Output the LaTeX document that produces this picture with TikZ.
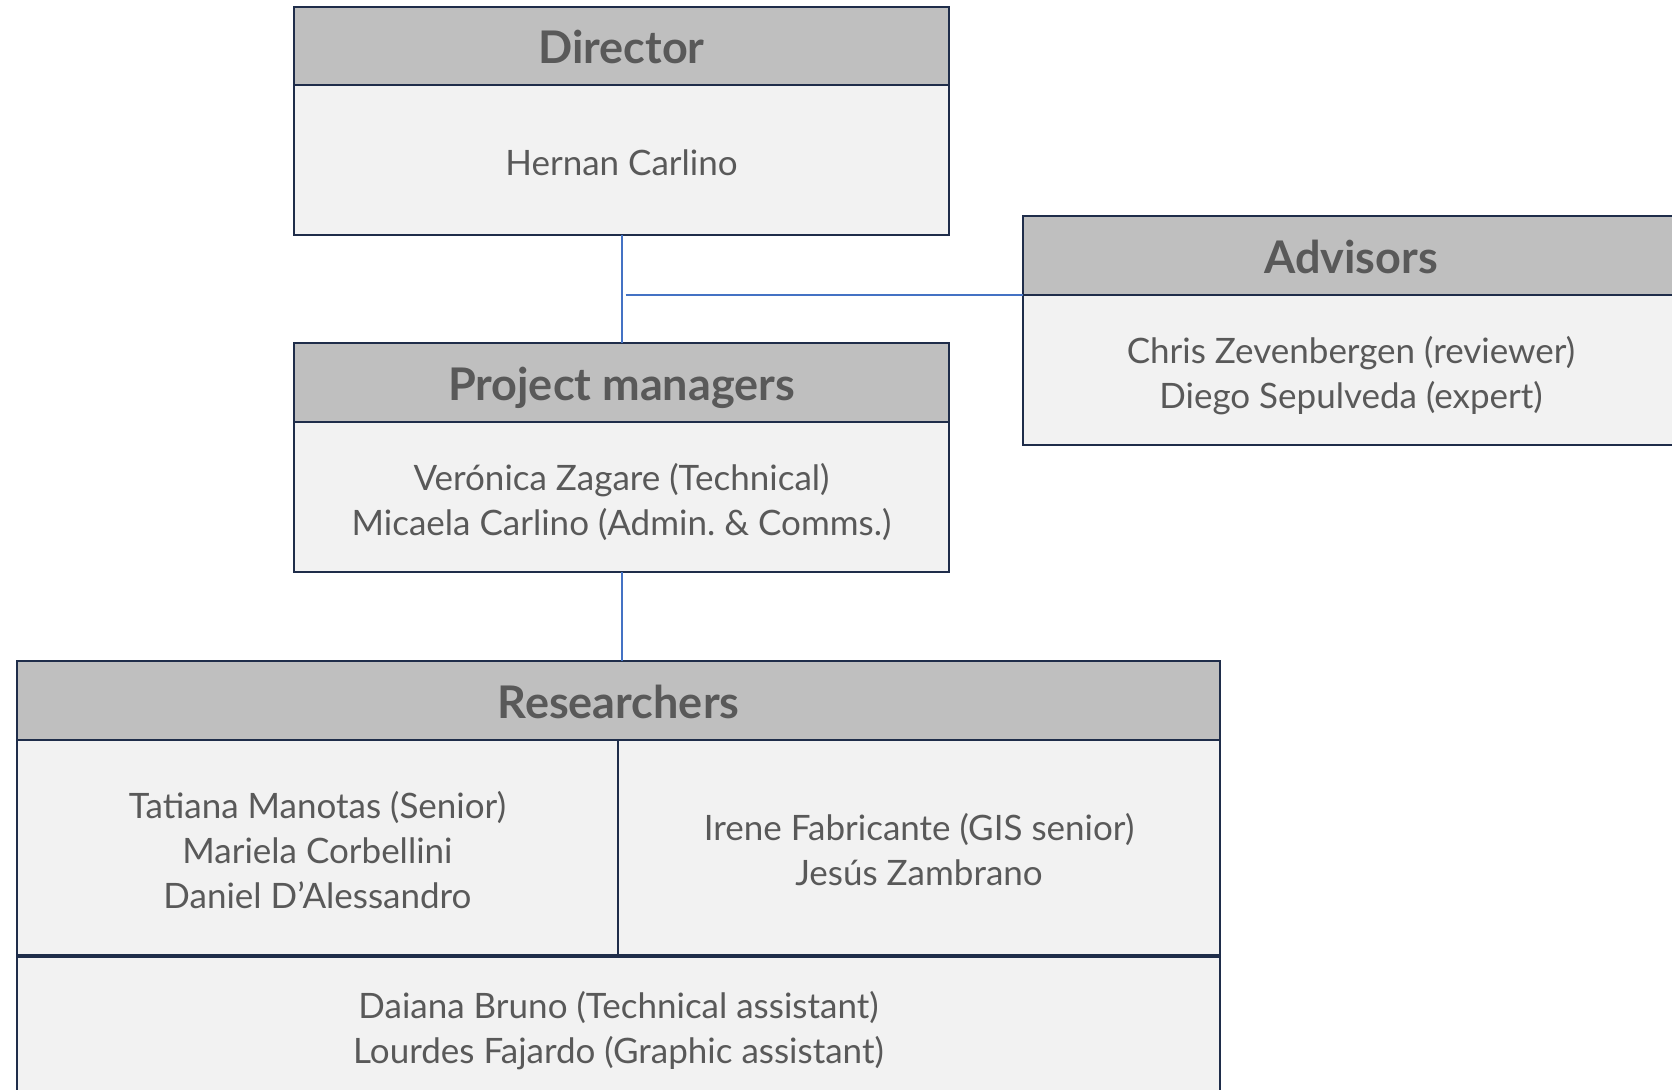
\documentclass[tikz,border=0pt]{standalone}
\usepackage{fontspec}
\setmainfont{Lato}
\definecolor{hdrgray}{HTML}{BFBFBF}
\definecolor{bodygray}{HTML}{F2F2F2}
\definecolor{navy}{HTML}{1F2D4A}
\definecolor{txtgray}{HTML}{595959}
\definecolor{linkblue}{HTML}{4472C4}
\newcommand{\topgap}[1]{\rule{0pt}{#1}}
\tikzset{
  cell/.style={draw=navy, line width=2.8pt, inner sep=0pt, outer sep=0pt,
    anchor=north west, align=center, text=txtgray},
  hdr/.style={cell, fill=hdrgray, font=\bfseries\fontsize{45}{50}\selectfont,
    text height=35pt, text depth=0pt},
  bodycell/.style={cell, fill=bodygray, font=\fontsize{35}{45}\selectfont},
  link/.style={draw=linkblue, line width=2pt}
}
\begin{document}
\begin{tikzpicture}[x=1pt,y=-1pt]
\useasboundingbox (0,0) rectangle (1672,1089);
\clip (0,0) rectangle (1672,1089);
% Director
\node[bodycell, minimum width=655pt, minimum height=150pt] (dirb) at (294,85) {\topgap{32pt}Hernan Carlino};
\node[hdr, minimum width=655pt, minimum height=78pt] (dirh) at (294,7) {Director};
% Advisors
\node[bodycell, minimum width=656pt, minimum height=150pt] (advb) at (1023,295) {\topgap{38pt}Chris Zevenbergen (reviewer)\\Diego Sepulveda (expert)};
\node[hdr, minimum width=656pt, minimum height=79pt] (advh) at (1023,216) {Advisors};
% Project managers
\node[bodycell, minimum width=655pt, minimum height=150pt] (pmb) at (294,422) {\topgap{38pt}Verónica Zagare (Technical)\\Micaela Carlino (Admin.\ \& Comms.)};
\node[hdr, minimum width=655pt, minimum height=79pt] (pmh) at (294,343) {Project managers};
% Researchers
\node[bodycell, minimum width=601pt, minimum height=216pt] (resl) at (17,740) {\topgap{31pt}Tatiana Manotas (Senior)\\Mariela Corbellini\\Daniel D’Alessandro};
\node[bodycell, minimum width=602pt, minimum height=216pt] (resr) at (618,740) {\topgap{31pt}Irene Fabricante (GIS senior)\\Jesús Zambrano};
\node[bodycell, minimum width=1203pt, minimum height=150pt] (resb) at (17,956) {Daiana Bruno (Technical assistant)\\Lourdes Fajardo (Graphic assistant)};
\draw[navy, line width=4pt] (resb.north west) -- (resb.north east);
\node[hdr, minimum width=1203pt, minimum height=79pt] (resh) at (17,661) {Researchers};
% connectors
\coordinate (jn) at ([xshift=4pt]dirb.south |- advb.north west);
\draw[link] (dirb.south) -- (pmh.north);
\draw[link] (jn) -- (advb.north west);
\draw[link] (pmb.south) -- (resh.north -| pmb.south);
\end{tikzpicture}
\end{document}
